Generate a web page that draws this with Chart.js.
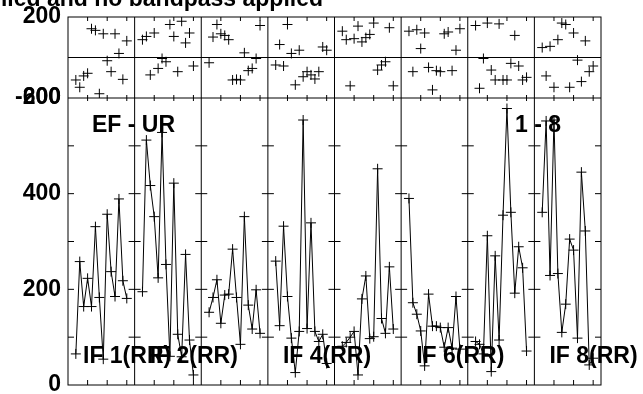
<!DOCTYPE html>
<html>
<head>
<meta charset="utf-8">
<script src="https://cdn.jsdelivr.net/npm/chart.js@4.4.1/dist/chart.umd.min.js"></script>
<style>
  html, body { margin:0; padding:0; background:#fff; }
  #wrap { width:643px; height:394px; position:relative; }
</style>
</head>
<body>
<div id="wrap"><canvas id="possm"></canvas></div>
<script>
/* ── data ── */
const CHANNELS = [2,3,4,5,6,7,8,9,10,11,12,13,14,15];
const CHANNELS_PER_IF = 17;
const CHANNEL_TICKS = [5,10,15];
const IF_LABELS = ['IF 1(RR)','IF 2(RR)','','IF 4(RR)','','IF 6(RR)','','IF 8(RR)'];

const AMP_IF1 = [65,258,164,223,164,331,183,54,357,237,185,389,218,181];
const AMP_IF2 = [195,512,417,352,224,528,252,60,422,106,59,273,94,21];
const AMP_IF3 = [152,183,220,129,188,190,284,183,85,352,167,117,199,108];
const AMP_IF4 = [259,124,332,185,98,26,112,554,118,339,112,91,106,45];
const AMP_IF5 = [81,89,100,112,21,180,228,97,101,452,139,108,247,117];
const AMP_IF6 = [390,172,148,113,40,190,123,123,120,79,120,77,185,75];
const AMP_IF7 = [91,85,65,312,28,270,94,355,578,361,192,289,245,71];
const AMP_IF8 = [361,552,229,554,233,110,169,305,282,98,445,322,42,56];

const PHASE_IF1 = [-111,-147,-91,-78,142,134,-179,117,-16,-70,117,20,-108,82];
const PHASE_IF2 = [88,104,-86,121,-54,-5,-21,163,104,-70,179,72,121,-42];
const PHASE_IF3 = [-26,101,163,117,109,88,-111,-108,-111,23,-65,-54,-5,158];
const PHASE_IF4 = [-37,64,-42,163,20,-135,36,-95,-70,-86,-106,-70,52,36];
const PHASE_IF5 = [130,88,-140,93,155,77,98,114,170,-62,-37,-21,147,-140];
const PHASE_IF6 = [130,-70,137,44,121,-49,-160,-65,-70,117,126,-65,36,142];
const PHASE_IF7 = [158,-152,-5,170,-62,-111,166,-111,-111,-29,109,-42,-111,-98];
const PHASE_IF8 = [49,-91,55,-147,88,170,163,-147,121,-13,-119,82,-70,-42];

const AMP_TICKS = [0,200,400,600];
const AMP_MINOR = [100,200,300,400,500];
const PHASE_TICKS = [-200,0,200];

const AMPS = [AMP_IF1,AMP_IF2,AMP_IF3,AMP_IF4,AMP_IF5,AMP_IF6,AMP_IF7,AMP_IF8];
const PHASES = [PHASE_IF1,PHASE_IF2,PHASE_IF3,PHASE_IF4,PHASE_IF5,PHASE_IF6,PHASE_IF7,PHASE_IF8];

const FONT = { family:'"Liberation Sans", Arial, Helvetica, sans-serif', size:23, weight:'bold' };
const FONT_CSS = 'bold 23px "Liberation Sans", Arial, Helvetica, sans-serif';

/* ── datasets ── */
const toPts = (k, vals) => CHANNELS.map((c, i) => ({ x: k*CHANNELS_PER_IF + c, y: vals[i] }));
const datasets = [];
AMPS.forEach((vals, k) => datasets.push({
  data: toPts(k, vals), yAxisID:'yAmp', showLine:true,
  borderColor:'#000', borderWidth:1, tension:0,
  pointStyle:'cross', pointRadius:5, pointBorderColor:'#000', pointBorderWidth:1
}));
PHASES.forEach((vals, k) => datasets.push({
  data: toPts(k, vals), yAxisID:'yPh', showLine:false,
  pointStyle:'cross', pointRadius:5, pointBorderColor:'#000', pointBorderWidth:1
}));

/* ── frame, column boundaries, tick marks, labels ── */
const overlay = {
  id:'overlay',
  beforeDatasetsDraw(chart) {
    const { ctx, chartArea:a, scales:{ x, yAmp, yPh } } = chart;
    ctx.save();
    ctx.strokeStyle = '#000'; ctx.lineWidth = 1;
    const line = (x1,y1,x2,y2) => { ctx.beginPath(); ctx.moveTo(x1,y1); ctx.lineTo(x2,y2); ctx.stroke(); };
    ctx.strokeRect(a.left, a.top, a.width, a.height);
    const ySep = yPh.bottom;
    line(a.left, ySep, a.right, ySep);
    const y0 = yPh.getPixelForValue(0);
    line(a.left, y0, a.right, y0);
    for (let k = 0; k <= AMPS.length; k++) {
      const xb = x.getPixelForValue(k*CHANNELS_PER_IF);
      if (k > 0 && k < AMPS.length) line(xb, a.top, xb, a.bottom);
      AMP_MINOR.forEach(v => {
        const yy = yAmp.getPixelForValue(v);
        line(Math.max(a.left, xb-6), yy, Math.min(a.right, xb+6), yy);
      });
    }
    for (let k = 0; k < AMPS.length; k++) {
      CHANNEL_TICKS.forEach(c => {
        const xp = x.getPixelForValue(k*CHANNELS_PER_IF + c);
        line(xp, a.top, xp, a.top+4);
        line(xp, ySep-3, xp, ySep+3);
        line(xp, a.bottom-5, xp, a.bottom);
      });
    }
    ctx.restore();
  },
  afterDatasetsDraw(chart) {
    const { ctx, chartArea:a, scales:{ x, yAmp } } = chart;
    ctx.save();
    ctx.fillStyle = '#000'; ctx.font = FONT_CSS; ctx.textBaseline = 'alphabetic';
    ctx.textAlign = 'left';
    IF_LABELS.forEach((t, k) => {
      if (t) ctx.fillText(t, x.getPixelForValue(k*CHANNELS_PER_IF) + 15, yAmp.getPixelForValue(0) - 22);
    });
    ctx.fillText('EF - UR', a.left + 24, yAmp.top + 34);
    ctx.fillText('1 - 8', a.right - 86, yAmp.top + 34);
    ctx.textAlign = 'right';
    ctx.fillText('Calibration applied and no bandpass applied', 323, 6);
    ctx.restore();
  }
};

const yBase = {
  position:'left', stack:'panels',
  grid:{ display:false, drawTicks:false }, border:{ display:false },
  ticks:{ color:'#000', font:FONT, padding:7, autoSkip:false },
  afterFit: s => { s.width = 68; s.paddingTop = 0; s.paddingBottom = 0; }
};

new Chart(document.getElementById('possm'), {
  type:'scatter',
  data:{ datasets },
  options:{
    responsive:true, maintainAspectRatio:false, animation:false,
    layout:{ padding:{ top:17, right:42, bottom:9, left:0 } },
    plugins:{ legend:{ display:false }, tooltip:{ enabled:false } },
    scales:{
      x:{ type:'linear', display:false, min:0, max:AMPS.length*CHANNELS_PER_IF },
      yAmp:{ ...yBase, stackWeight:287, min:AMP_TICKS[0], max:AMP_TICKS[AMP_TICKS.length-1],
        afterBuildTicks: s => { s.ticks = AMP_TICKS.map(v => ({ value:v })); } },
      yPh:{ ...yBase, stackWeight:81, min:PHASE_TICKS[0], max:PHASE_TICKS[PHASE_TICKS.length-1],
        afterBuildTicks: s => { s.ticks = PHASE_TICKS.map(v => ({ value:v })); },
        ticks:{ ...yBase.ticks, callback: v => v === 0 ? '' : v } }
    }
  },
  plugins:[overlay]
});
</script>
</body>
</html>
